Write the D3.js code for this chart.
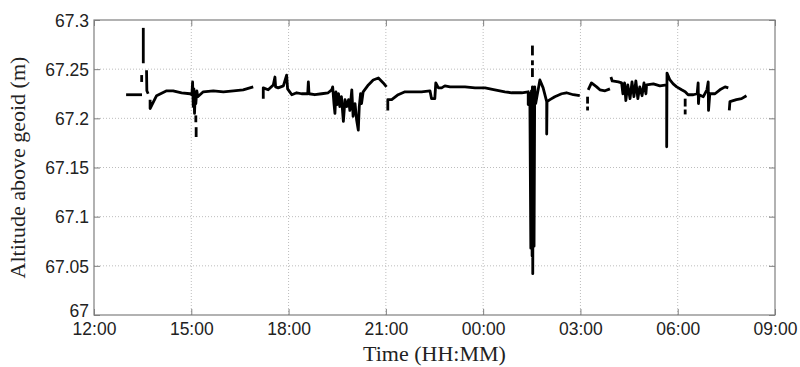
<!DOCTYPE html>
<html>
<head>
<meta charset="UTF-8">
<title>Altitude above geoid</title>
<script src="https://cdn.jsdelivr.net/npm/d3@7"></script>
<style>
  body { margin: 0; background: #fff; }
  .tick text { font-family: "Liberation Sans", Arial, sans-serif; font-size: 17.5px; fill: #222; }
  .grid line { stroke: #bdbdbd; stroke-dasharray: 1,2; }
  .frame { fill: none; stroke: #7f7f7f; stroke-width: 1.2; }
  .trace { fill: none; stroke: #000; stroke-width: 2.8; stroke-linejoin: round; }
  .label { font-family: "Liberation Serif", "Times New Roman", serif; font-size: 22px; fill: #222; }
</style>
</head>
<body>
<svg width="800" height="367"></svg>
<script>
// hours after 12:00 (day 1), altitude (m)
const segA = [[0.99, 67.224], [1.48, 67.224]];
const segB = [[1.52, 67.292], [1.52, 67.256]];
const segC = [[1.47, 67.244], [1.47, 67.237]];
const segD = [[1.62, 67.249], [1.63, 67.228], [1.67, 67.225]];
const segE = [[1.73, 67.219], [1.73, 67.210], [1.93, 67.223], [2.24, 67.228], [2.44, 67.228],
  [2.70, 67.226], [2.96, 67.225], [3.02, 67.224], [3.04, 67.237], [3.06, 67.212], [3.08, 67.230],
  [3.10, 67.205], [3.12, 67.225], [3.14, 67.215], [3.17, 67.228], [3.20, 67.222], [3.37, 67.227],
  [3.68, 67.228], [3.99, 67.227], [4.30, 67.228], [4.60, 67.229], [4.91, 67.232]];
const segE1 = [[3.14, 67.203], [3.14, 67.196]];
const segE2 = [[3.15, 67.191], [3.15, 67.181]];
const segF = [[5.22, 67.220], [5.22, 67.231], [5.37, 67.229], [5.53, 67.234], [5.58, 67.242],
  [5.60, 67.232], [5.68, 67.231], [5.84, 67.233], [5.94, 67.244], [5.97, 67.230], [6.10, 67.224],
  [6.25, 67.226], [6.40, 67.225], [6.59, 67.225], [6.61, 67.237], [6.63, 67.225], [6.81, 67.224],
  [7.02, 67.225], [7.22, 67.226], [7.33, 67.229], [7.36, 67.232], [7.40, 67.215], [7.43, 67.205],
  [7.46, 67.227], [7.50, 67.214], [7.54, 67.225], [7.58, 67.212], [7.63, 67.222], [7.69, 67.197],
  [7.74, 67.219], [7.79, 67.212], [7.85, 67.219], [7.89, 67.208], [7.95, 67.229], [7.99, 67.202],
  [8.05, 67.215], [8.10, 67.198], [8.15, 67.188], [8.18, 67.212], [8.22, 67.225], [8.25, 67.215],
  [8.30, 67.227], [8.46, 67.234], [8.61, 67.239], [8.77, 67.241], [8.92, 67.236], [9.02, 67.232]];
const segG = [[9.06, 67.208], [9.06, 67.219], [9.18, 67.219], [9.38, 67.224], [9.59, 67.227],
  [9.80, 67.227], [10.10, 67.227], [10.36, 67.228], [10.41, 67.220], [10.51, 67.220], [10.54, 67.236],
  [10.62, 67.231], [10.72, 67.231], [10.82, 67.233], [10.98, 67.232], [11.13, 67.232], [11.44, 67.232],
  [11.75, 67.231], [12.06, 67.231], [12.36, 67.229], [12.67, 67.227], [12.88, 67.226], [13.19, 67.226],
  [13.39, 67.227], [13.39, 67.214], [13.44, 67.225], [13.47, 67.068], [13.49, 67.228], [13.51, 67.060],
  [13.52, 67.232], [13.53, 67.042], [13.55, 67.226], [13.57, 67.070], [13.59, 67.232], [13.62, 67.215],
  [13.75, 67.239], [13.85, 67.231], [13.96, 67.217], [13.96, 67.184], [13.97, 67.217], [14.06, 67.219],
  [14.21, 67.222], [14.42, 67.225], [14.57, 67.226], [14.78, 67.224], [14.98, 67.223]];
const segG1 = [[13.52, 67.274], [13.52, 67.264]];
const segG2 = [[13.52, 67.259], [13.52, 67.254]];
const segG3 = [[13.52, 67.251], [13.52, 67.242]];
const segH = [[15.24, 67.229], [15.34, 67.236], [15.50, 67.232], [15.60, 67.229], [15.76, 67.228], [15.91, 67.230]];
const segH1 = [[15.22, 67.222], [15.22, 67.215]];
const segH2 = [[15.22, 67.212], [15.22, 67.208]];
const segI = [[15.94, 67.242], [15.98, 67.238], [16.17, 67.237], [16.27, 67.236], [16.31, 67.225],
  [16.36, 67.236], [16.40, 67.218], [16.46, 67.234], [16.53, 67.220], [16.59, 67.237], [16.65, 67.222],
  [16.71, 67.238], [16.77, 67.220], [16.83, 67.232], [16.90, 67.223], [16.96, 67.236], [17.02, 67.225],
  [17.04, 67.234], [17.25, 67.235], [17.45, 67.233], [17.66, 67.234], [17.66, 67.171], [17.67, 67.246],
  [17.76, 67.239], [17.86, 67.235], [17.97, 67.232], [18.12, 67.229], [18.23, 67.227], [18.32, 67.224],
  [18.48, 67.224], [18.60, 67.225], [18.63, 67.236], [18.64, 67.215], [18.66, 67.224], [18.79, 67.222],
  [18.90, 67.229], [18.94, 67.237], [18.95, 67.208], [18.99, 67.225], [19.15, 67.225], [19.30, 67.229],
  [19.46, 67.232], [19.56, 67.231]];
const segI1 = [[18.23, 67.220], [18.23, 67.212]];
const segI2 = [[18.23, 67.209], [18.23, 67.204]];
const segJ = [[19.59, 67.208], [19.61, 67.217], [19.81, 67.219], [19.97, 67.220], [20.12, 67.223]];

const segments = [segA, segB, segC, segD, segE, segE1, segE2, segF, segG, segG1, segG2, segG3,
  segH, segH1, segH2, segI, segI1, segI2, segJ];

const yTicks = [67, 67.05, 67.1, 67.15, 67.2, 67.25, 67.3];
const yTickLabels = ["67", "67.05", "67.1", "67.15", "67.2", "67.25", "67.3"];

const t0 = new Date(2000, 0, 1, 12, 0);
const t1 = new Date(2000, 0, 2, 9, 0);
const toDate = h => new Date(t0.getTime() + h * 3600e3);

const margin = {left: 94, top: 20, right: 25, bottom: 52};
const W = 800 - margin.left - margin.right, H = 367 - margin.top - margin.bottom;

const svg = d3.select("svg");
const g = svg.append("g").attr("transform", `translate(${margin.left},${margin.top})`);

const x = d3.scaleTime().domain([t0, t1]).range([0, W]);
const y = d3.scaleLinear().domain([67, 67.3]).range([H, 0]);
const xTicks = d3.timeHour.range(t0, d3.timeHour.offset(t1, 1), 3);

// grid
g.append("g").attr("class", "grid")
  .selectAll("line").data(xTicks.slice(1, -1)).enter().append("line")
  .attr("x1", d => x(d)).attr("x2", d => x(d)).attr("y1", 0).attr("y2", H);
g.append("g").attr("class", "grid")
  .selectAll("line").data(yTicks.slice(1, -1)).enter().append("line")
  .attr("x1", 0).attr("x2", W).attr("y1", d => y(d)).attr("y2", d => y(d));

// axes (inward ticks)
const fmt = d3.timeFormat("%H:%M");
const xAxis = g.append("g").attr("transform", `translate(0,${H})`)
  .call(d3.axisBottom(x).tickValues(xTicks).tickFormat(fmt).tickSizeInner(-6).tickSizeOuter(0).tickPadding(8));
const yAxis = g.append("g")
  .call(d3.axisLeft(y).tickValues(yTicks).tickFormat((d, i) => yTickLabels[i]).tickSizeInner(-6).tickSizeOuter(0).tickPadding(5));
g.append("g").call(d3.axisTop(x).tickValues(xTicks).tickFormat("").tickSizeInner(-6).tickSizeOuter(0));
g.append("g").attr("transform", `translate(${W},0)`)
  .call(d3.axisRight(y).tickValues(yTicks).tickFormat("").tickSizeInner(-6).tickSizeOuter(0));
g.selectAll(".domain").remove();
g.selectAll(".tick line").attr("stroke", "#7f7f7f");
yAxis.selectAll(".tick text").attr("dy", "0.36em");
// bottom label sits a little higher, as in the original
yAxis.selectAll(".tick text").filter(d => d === 67).attr("dy", "0.1em");

g.append("rect").attr("class", "frame").attr("width", W).attr("height", H);

// data
const line = d3.line().x(d => x(toDate(d[0]))).y(d => y(d[1]));
g.selectAll(".trace").data(segments).enter().append("path")
  .attr("class", "trace").attr("d", line);

// labels
svg.append("text").attr("class", "label")
  .attr("x", margin.left + W / 2).attr("y", 361).attr("text-anchor", "middle")
  .text("Time (HH:MM)");
svg.append("text").attr("class", "label")
  .attr("transform", `translate(25,${margin.top + H / 2}) rotate(-90)`)
  .attr("text-anchor", "middle")
  .text("Altitude above geoid (m)");
</script>
</body>
</html>
